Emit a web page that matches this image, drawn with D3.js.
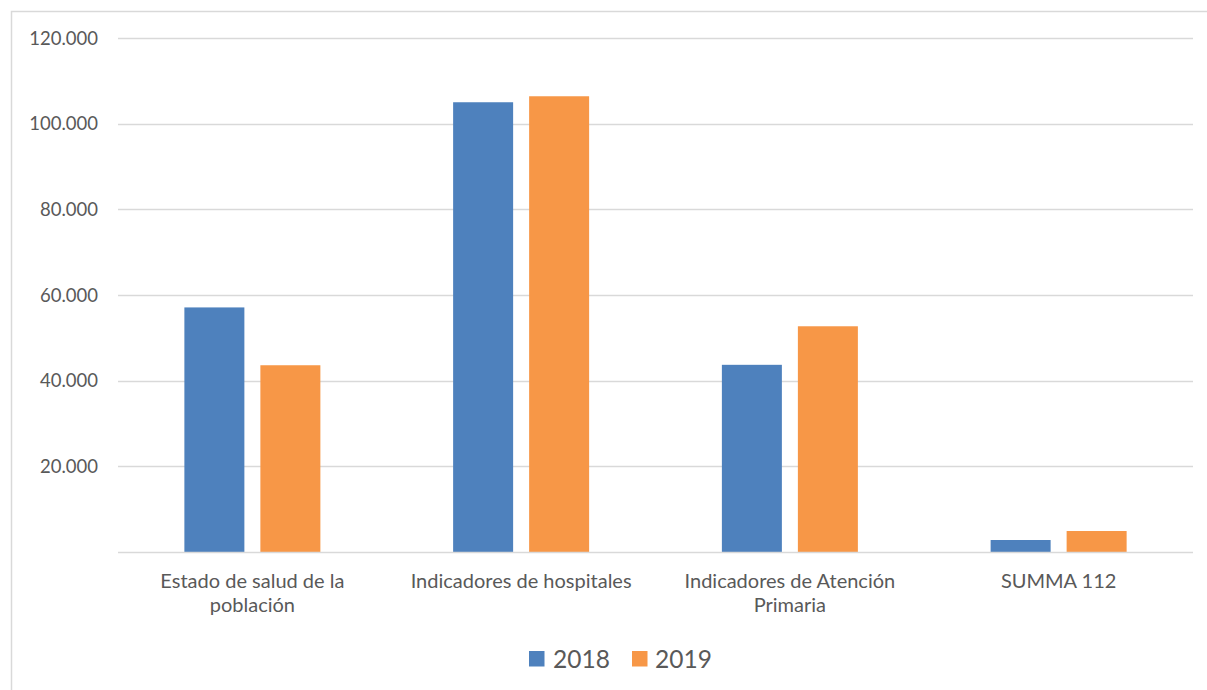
<!DOCTYPE html>
<html><head><meta charset="utf-8">
<script src="https://cdn.jsdelivr.net/npm/d3@7"></script>
<style>
html,body{margin:0;padding:0;background:#fff;}
svg{display:block;font-family:Lato,"Open Sans",sans-serif;}
</style></head>
<body>
<svg id="chart" width="1207" height="690"></svg>
<script>
const categories = [["Estado de salud de la","población"],["Indicadores de hospitales"],["Indicadores de Atención","Primaria"],["SUMMA 112"]];
const seriesNames = ["2018","2019"];
const values2018 = [57100, 105000, 43700, 2800];
const values2019 = [43600, 106400, 52700, 4900];
const yTicks = [20000, 40000, 60000, 80000, 100000, 120000];
const tickLabels = ["20.000","40.000","60.000","80.000","100.000","120.000"];
const colors = ["#4e81bd","#f79747"];

(function(){
const svg = d3.select("#chart");
// outer frame
svg.append("rect").attr("x",11.5).attr("y",11.5).attr("width",1240).attr("height",720)
  .attr("fill","none").attr("stroke","#d9d9d9").attr("stroke-width",1.5);

const pLeft=118, pRight=1193, pTop=38, pBottom=552;
const x = d3.scaleBand().domain(d3.range(categories.length)).range([pLeft,pRight]);
const y = d3.scaleLinear().domain([0,120000]).range([pBottom,pTop]);
const inner = d3.scaleBand().domain([0,1]).range([-68,68]).paddingInner(16/76);

// grid
svg.append("g").selectAll("line").data(yTicks).join("line")
  .attr("x1",pLeft).attr("x2",pRight)
  .attr("y1",d=>Math.round(y(d))+0.5).attr("y2",d=>Math.round(y(d))+0.5)
  .attr("stroke","#d9d9d9").attr("stroke-width",1.3);

// y labels
svg.append("g").selectAll("text").data(yTicks).join("text")
  .attr("x",98).attr("y",d=>y(d)).attr("dy","0.36em")
  .attr("text-anchor","end").attr("font-size",18.5).attr("fill","#595959")
  .text((d,i)=>tickLabels[i]);

// bars
const data = [values2018, values2019];
data.forEach((vals,s)=>{
  svg.append("g").selectAll("rect").data(vals).join("rect")
    .attr("x",(d,i)=>x(i)+x.bandwidth()/2+inner(s))
    .attr("width",inner.bandwidth())
    .attr("y",d=>y(d)).attr("height",d=>pBottom-y(d))
    .attr("fill",colors[s]);
});

// baseline
svg.append("line").attr("x1",pLeft).attr("x2",pRight).attr("y1",pBottom+0.5).attr("y2",pBottom+0.5)
  .attr("stroke","#d9d9d9").attr("stroke-width",1.5);

// category labels
const cl = svg.append("g").selectAll("text").data(categories).join("text")
  .attr("x",(d,i)=>x(i)+x.bandwidth()/2).attr("y",588)
  .attr("text-anchor","middle").attr("font-size",20).attr("fill","#595959");
cl.selectAll("tspan").data(d=>d).join("tspan")
  .attr("x",function(){return this.parentNode.getAttribute("x");})
  .attr("dy",(d,i)=>i?24:0).text(d=>d);

// legend
const leg = [{sq:529,tx:553},{sq:632,tx:655}];
seriesNames.forEach((n,i)=>{
  svg.append("rect").attr("x",leg[i].sq).attr("y",651).attr("width",15.5).attr("height",15.5).attr("fill",colors[i]);
  svg.append("text").attr("x",leg[i].tx).attr("y",668).attr("font-size",24.5).attr("fill","#595959").text(n);
});
})();
</script>
</body></html>
